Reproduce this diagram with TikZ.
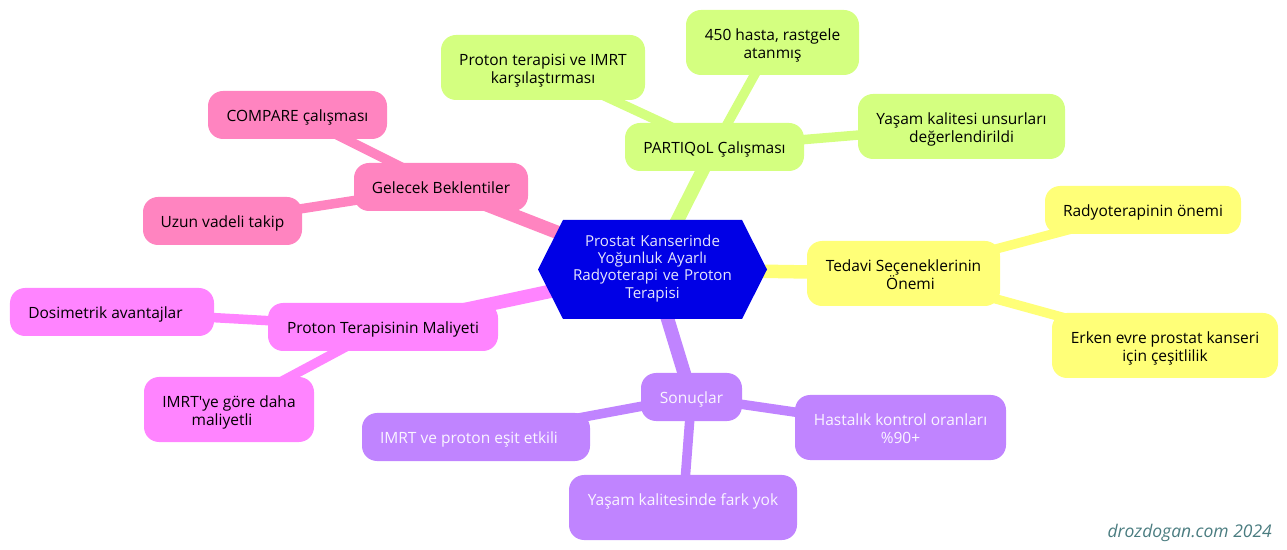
\documentclass[tikz,border=0pt]{standalone}
\usepackage{fontspec}
\setmainfont{Open Sans}[Ligatures=TeXOff]
\usetikzlibrary{shapes.symbols,backgrounds}
\definecolor{cgreen}{HTML}{D4FF80}
\definecolor{cyellow}{HTML}{FFFF78}
\definecolor{cpink}{HTML}{FF84C0}
\definecolor{cmag}{HTML}{FF84FF}
\definecolor{cpurple}{HTML}{C084FF}
\definecolor{cblue}{HTML}{0000E6}
\definecolor{cmark}{HTML}{4A7C80}
\newcommand{\botfix}{\rule[-4bp]{0pt}{4bp}}
\tikzset{
  txt/.style={font=\fontsize{15.5bp}{18bp}\selectfont,align=center,execute at end node=\botfix},
  mm/.style 2 args={txt,rectangle,rounded corners=15bp,inner sep=0pt,fill=#1,minimum width=#2 bp},
  gbox/.style={mm={cgreen}{#1},text=black},
  ybox/.style={mm={cyellow}{#1},text=black},
  pbox/.style={mm={cpink}{#1},text=black},
  mbox/.style={mm={cmag}{#1},text=black},
  ubox/.style={mm={cpurple}{#1},text=white!92!cpurple},
  short/.style={minimum height=48bp,execute at begin node=\rule{0pt}{17bp}},
  tall/.style={minimum height=65bp,execute at begin node=\rule{0pt}{36bp}},
  rootbox/.style={txt,font=\fontsize{15.1bp}{17.2bp}\selectfont,shape=signal,signal from=nowhere,signal to=east and west,signal pointer angle=126.4,
    fill=cblue,text=white!90!cblue,inner sep=0pt,minimum width=229bp,minimum height=99bp,text width=175bp,execute at end node=\rule[-6bp]{0pt}{6bp}},
  thick1/.style={line width=13.5bp},
  thick2/.style={line width=9.5bp},
}
\begin{document}
\begin{tikzpicture}[x=1bp,y=-1bp]
\useasboundingbox (0,0) rectangle (1287,550);
\node[rootbox] (root) at (652.5,269.5) {Prostat Kanserinde\\Yoğunluk Ayarlı\\Radyoterapi ve Proton\\Terapisi};
% green
\node[gbox=179,short] (g0) at (714.5,147) {PARTIQoL Çalışması};
\node[gbox=173,tall] (g1) at (772.5,42.5) {450 hasta, rastgele\\atanmış};
\node[gbox=204,tall] (g2) at (543,67.5) {Proton terapisi ve IMRT\\karşılaştırması};
\node[gbox=207,tall] (g3) at (961.5,126.5) {Yaşam kalitesi unsurları\\değerlendirildi};
% yellow
\node[ybox=193,tall] (y0) at (903.5,273.5) {Tedavi Seçeneklerinin\\\hspace*{14bp}Önemi};
\node[ybox=196,short] (y1) at (1143,210) {Radyoterapinin önemi};
\node[ybox=226,tall] (y2) at (1165,345.5) {Erken evre prostat kanseri\\için çeşitlilik};
% pink
\node[pbox=174,short] (p0) at (441,187) {Gelecek Beklentiler};
\node[pbox=179,short] (p1) at (297.5,115) {COMPARE çalışması};
\node[pbox=159,short] (p2) at (222.5,221) {Uzun vadeli takip};
% magenta
\node[mbox=230,short] (m0) at (383,327) {Proton Terapisinin Maliyeti};
\node[mbox=204,short] (m1) at (112,312) {Dosimetrik avantajlar\hspace*{13bp}};
\node[mbox=170,tall] (m2) at (229,409.5) {IMRT'ye göre daha\\maliyetli\hspace*{14bp}};
% purple
\node[ubox=101,short] (u0) at (691.5,397) {Sonuçlar};
\node[ubox=228,short] (u1) at (476,437) {IMRT ve proton eşit etkili\hspace*{14bp}};
\node[ubox=211,tall] (u2) at (900.5,427.5) {Hastalık kontrol oranları\\\%90+};
\node[ubox=228,tall] (u3) at (683,507.5) {Yaşam kalitesinde fark yok\\\mbox{}};
% watermark
\node[font=\fontsize{17.5bp}{20bp}\selectfont\itshape,text=cmark,anchor=east,inner sep=0pt] (wm) at (1272,533) {drozdogan.com 2024};
\begin{scope}[on background layer]
  \draw[cgreen,thick1] (root.center) -- (g0.center);
  \draw[cgreen,thick2] (g0.center) -- (g1.center);
  \draw[cgreen,thick2] (g0.center) -- (g2.center);
  \draw[cgreen,thick2] (g0.center) -- (g3.center);
  \draw[cyellow,thick1] (root.center) -- (y0.center);
  \draw[cyellow,thick2] (y0.center) -- (y1.center);
  \draw[cyellow,thick2] (y0.center) -- (y2.center);
  \draw[cpink,thick1] (root.center) -- (p0.center);
  \draw[cpink,thick2] (p0.center) -- (p1.center);
  \draw[cpink,thick2] (p0.center) -- (p2.center);
  \draw[cmag,thick1] (root.center) -- (m0.center);
  \draw[cmag,thick2] (m0.center) -- (m1.center);
  \draw[cmag,thick2] (m0.center) -- (m2.center);
  \draw[cpurple,thick1] (root.center) -- (u0.center);
  \draw[cpurple,thick2] (u0.center) -- (u1.center);
  \draw[cpurple,thick2] (u0.center) -- (u2.center);
  \draw[cpurple,thick2] (u0.center) -- (u3.center);
\end{scope}
\end{tikzpicture}
\end{document}
